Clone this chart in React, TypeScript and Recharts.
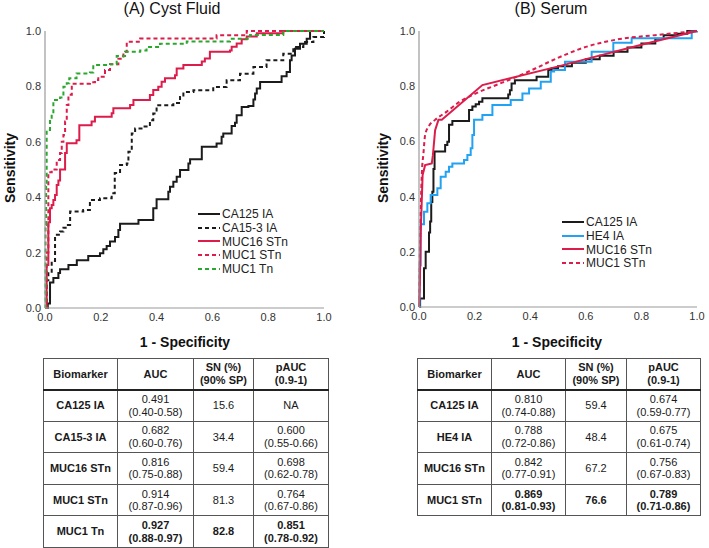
import React from "react";
import { LineChart, Line, XAxis, YAxis, Legend } from "recharts";

const FONT = '"Liberation Sans", Arial, sans-serif';
const ticks = [0, 0.2, 0.4, 0.6, 0.8, 1];

// (A) Cyst fluid: points are the top of each rise of the ROC staircase
const cystCa125Fpr = [0, 0.01, 0.018, 0.03, 0.048, 0.054, 0.084, 0.114, 0.155, 0.197, 0.209, 0.221, 0.233, 0.251, 0.263, 0.269, 0.335, 0.388, 0.4, 0.442, 0.448, 0.46, 0.472, 0.484, 0.514, 0.52, 0.562, 0.615, 0.633, 0.639, 0.669, 0.681, 0.687, 0.705, 0.729, 0.747, 0.753, 0.759, 0.771, 0.848, 0.866, 0.878, 0.884, 0.896, 0.914, 0.938, 0.95, 1];
const cystCa125Tpr = [0, 0.016, 0.092, 0.108, 0.126, 0.14, 0.155, 0.172, 0.188, 0.198, 0.212, 0.224, 0.24, 0.256, 0.282, 0.304, 0.318, 0.36, 0.393, 0.42, 0.438, 0.456, 0.474, 0.498, 0.522, 0.537, 0.582, 0.594, 0.618, 0.63, 0.657, 0.669, 0.696, 0.726, 0.729, 0.753, 0.774, 0.792, 0.816, 0.837, 0.852, 0.894, 0.912, 0.936, 0.954, 0.972, 1, 1];

const cystCa153Fpr = [0, 0.006, 0.012, 0.024, 0.036, 0.054, 0.066, 0.078, 0.09, 0.137, 0.161, 0.197, 0.239, 0.25, 0.269, 0.293, 0.299, 0.311, 0.323, 0.352, 0.376, 0.388, 0.4, 0.46, 0.484, 0.496, 0.532, 0.603, 0.651, 0.699, 0.747, 0.794, 0.854, 0.89, 0.926, 0.962, 1];
const cystCa153Tpr = [0, 0.1, 0.131, 0.17, 0.264, 0.276, 0.29, 0.3, 0.348, 0.354, 0.39, 0.396, 0.414, 0.487, 0.516, 0.522, 0.564, 0.63, 0.648, 0.655, 0.678, 0.702, 0.732, 0.74, 0.762, 0.78, 0.786, 0.798, 0.822, 0.846, 0.87, 0.894, 0.918, 0.942, 0.96, 0.978, 1];

const cystMuc16Fpr = [0, 0.006, 0.012, 0.018, 0.024, 0.03, 0.036, 0.042, 0.048, 0.054, 0.072, 0.078, 0.113, 0.123, 0.167, 0.179, 0.239, 0.245, 0.305, 0.317, 0.376, 0.388, 0.406, 0.418, 0.43, 0.466, 0.472, 0.496, 0.562, 0.573, 0.591, 0.663, 0.669, 0.687, 0.705, 0.723, 0.759, 0.854, 1];
const cystMuc16Tpr = [0, 0.155, 0.31, 0.36, 0.372, 0.39, 0.408, 0.444, 0.46, 0.5, 0.56, 0.595, 0.606, 0.66, 0.673, 0.69, 0.703, 0.721, 0.733, 0.751, 0.769, 0.787, 0.799, 0.817, 0.829, 0.84, 0.865, 0.877, 0.89, 0.901, 0.925, 0.93, 0.943, 0.955, 0.97, 0.98, 0.992, 1, 1];

const cystMuc1StnFpr = [0, 0.006, 0.012, 0.024, 0.042, 0.054, 0.06, 0.066, 0.072, 0.078, 0.084, 0.096, 0.161, 0.179, 0.191, 0.215, 0.233, 0.263, 0.281, 0.293, 0.341, 0.615, 0.723, 1];
const cystMuc1StnTpr = [0, 0.2, 0.49, 0.5, 0.534, 0.56, 0.6, 0.625, 0.673, 0.733, 0.77, 0.81, 0.815, 0.823, 0.835, 0.859, 0.88, 0.9, 0.925, 0.961, 0.973, 0.985, 1, 1];

const cystMuc1TnFpr = [0, 0.002, 0.004, 0.006, 0.018, 0.024, 0.03, 0.054, 0.066, 0.078, 0.087, 0.113, 0.161, 0.173, 0.233, 0.257, 0.287, 0.341, 0.364, 0.412, 0.508, 0.663, 0.735, 0.854, 1];
const cystMuc1TnTpr = [0, 0.3, 0.44, 0.643, 0.679, 0.7, 0.751, 0.76, 0.799, 0.811, 0.829, 0.847, 0.85, 0.877, 0.88, 0.91, 0.925, 0.93, 0.942, 0.954, 0.962, 0.972, 0.986, 1, 1];

// (B) Serum
const serumCa125Fpr = [0, 0.004, 0.012, 0.018, 0.024, 0.036, 0.04, 0.044, 0.048, 0.052, 0.056, 0.09, 0.094, 0.102, 0.108, 0.12, 0.174, 0.18, 0.192, 0.204, 0.216, 0.228, 0.303, 0.321, 0.327, 0.333, 0.345, 0.417, 0.423, 0.447, 0.465, 0.477, 0.5, 0.55, 0.6, 0.65, 0.7, 0.75, 0.8, 0.85, 0.88, 0.93, 0.965, 1];
const serumCa125Tpr = [0, 0.031, 0.031, 0.14, 0.2, 0.27, 0.31, 0.38, 0.418, 0.5, 0.563, 0.563, 0.587, 0.599, 0.66, 0.674, 0.674, 0.714, 0.726, 0.735, 0.744, 0.756, 0.756, 0.77, 0.785, 0.81, 0.822, 0.822, 0.834, 0.834, 0.859, 0.865, 0.872, 0.885, 0.898, 0.91, 0.925, 0.94, 0.955, 0.972, 0.985, 0.99, 1, 1];

const serumHe4Fpr = [0, 0.002, 0.006, 0.018, 0.03, 0.042, 0.066, 0.078, 0.096, 0.108, 0.12, 0.162, 0.174, 0.186, 0.192, 0.198, 0.228, 0.264, 0.33, 0.372, 0.396, 0.438, 0.474, 0.486, 0.525, 0.621, 0.699, 0.765, 0.981, 1];
const serumHe4Tpr = [0, 0.15, 0.3, 0.345, 0.376, 0.406, 0.43, 0.472, 0.49, 0.508, 0.52, 0.533, 0.551, 0.575, 0.623, 0.678, 0.696, 0.732, 0.75, 0.774, 0.792, 0.816, 0.853, 0.859, 0.889, 0.925, 0.957, 0.974, 0.998, 1];

const serumMuc16Fpr = [0, 0.003, 0.006, 0.013, 0.022, 0.046, 0.05, 0.058, 0.07, 0.082, 0.228, 0.498, 0.6, 0.8, 1];
const serumMuc16Tpr = [0, 0.086, 0.267, 0.478, 0.514, 0.52, 0.55, 0.641, 0.678, 0.678, 0.804, 0.871, 0.898, 0.95, 1];

const serumMuc1Fpr = [0, 0.004, 0.01, 0.016, 0.022, 0.034, 0.058, 0.1, 0.147, 0.207, 0.267, 0.342, 0.42, 0.498, 0.609, 0.729, 0.849, 1];
const serumMuc1Tpr = [0, 0.25, 0.478, 0.557, 0.623, 0.653, 0.678, 0.708, 0.744, 0.775, 0.8, 0.83, 0.865, 0.902, 0.945, 0.972, 0.985, 1];

// tables
const cystMarkers = ["CA125 IA", "CA15-3 IA", "MUC16 STn", "MUC1 STn", "MUC1 Tn"];
const cystAuc = ["0.491", "0.682", "0.816", "0.914", "0.927"];
const cystAucCi = ["(0.40-0.58)", "(0.60-0.76)", "(0.75-0.88)", "(0.87-0.96)", "(0.88-0.97)"];
const cystSn = ["15.6", "34.4", "59.4", "81.3", "82.8"];
const cystPauc = ["NA", "0.600", "0.698", "0.764", "0.851"];
const cystPaucCi = ["", "(0.55-0.66)", "(0.62-0.78)", "(0.67-0.86)", "(0.78-0.92)"];

const serumMarkers = ["CA125 IA", "HE4 IA", "MUC16 STn", "MUC1 STn"];
const serumAuc = ["0.810", "0.788", "0.842", "0.869"];
const serumAucCi = ["(0.74-0.88)", "(0.72-0.86)", "(0.77-0.91)", "(0.81-0.93)"];
const serumSn = ["59.4", "48.4", "67.2", "76.6"];
const serumPauc = ["0.674", "0.675", "0.756", "0.789"];
const serumPaucCi = ["(0.59-0.77)", "(0.61-0.74)", "(0.67-0.83)", "(0.71-0.86)"];

const BLACK = "#1b1b1b";
const RED = "#dc1c4a";
const GREEN = "#2aa82e";
const BLUE = "#22a2f2";

interface Series {
  name: string;
  fpr: number[];
  tpr: number[];
  color: string;
  dashed: boolean;
  curve: "stepAfter" | "linear" | "monotone";
}

const toPoints = (fpr: number[], tpr: number[]) => fpr.map((x, i) => ({ x, y: tpr[i] }));

const cystSeries: Series[] = [
  { name: "CA125 IA", fpr: cystCa125Fpr, tpr: cystCa125Tpr, color: BLACK, dashed: false, curve: "stepAfter" },
  { name: "CA15-3 IA", fpr: cystCa153Fpr, tpr: cystCa153Tpr, color: BLACK, dashed: true, curve: "stepAfter" },
  { name: "MUC16 STn", fpr: cystMuc16Fpr, tpr: cystMuc16Tpr, color: RED, dashed: false, curve: "stepAfter" },
  { name: "MUC1 STn", fpr: cystMuc1StnFpr, tpr: cystMuc1StnTpr, color: RED, dashed: true, curve: "stepAfter" },
  { name: "MUC1 Tn", fpr: cystMuc1TnFpr, tpr: cystMuc1TnTpr, color: GREEN, dashed: true, curve: "stepAfter" },
];

const serumSeries: Series[] = [
  { name: "CA125 IA", fpr: serumCa125Fpr, tpr: serumCa125Tpr, color: BLACK, dashed: false, curve: "stepAfter" },
  { name: "HE4 IA", fpr: serumHe4Fpr, tpr: serumHe4Tpr, color: BLUE, dashed: false, curve: "stepAfter" },
  { name: "MUC16 STn", fpr: serumMuc16Fpr, tpr: serumMuc16Tpr, color: RED, dashed: false, curve: "linear" },
  { name: "MUC1 STn", fpr: serumMuc1Fpr, tpr: serumMuc1Tpr, color: RED, dashed: true, curve: "monotone" },
];

function LegendBox({ series }: { series: Series[] }) {
  return (
    <div style={{ fontFamily: FONT, fontSize: 12, color: "#222" }}>
      {series.map((s) => (
        <div key={s.name} style={{ display: "flex", alignItems: "center", height: 13.8 }}>
          <svg width={22} height={10} style={{ marginRight: 2 }}>
            <line x1={0} y1={5} x2={22} y2={5} stroke={s.color} strokeWidth={2} strokeDasharray={s.dashed ? "4 3" : undefined} />
          </svg>
          <span>{s.name}</span>
        </div>
      ))}
    </div>
  );
}

function RocChart({ series, width, height, right, legendLeft, legendTop }: {
  series: Series[]; width: number; height: number; right: number; legendLeft: number; legendTop: number;
}) {
  const tickStyle = { fill: "#333", fontSize: 11, fontFamily: FONT };
  return (
    <LineChart width={width} height={height} margin={{ top: 31, right, bottom: 0, left: 0 }}>
      <XAxis type="number" dataKey="x" domain={[0, 1]} ticks={ticks} tickFormatter={(v) => Number(v).toFixed(1)}
        tick={tickStyle} tickLine={false} tickSize={0} tickMargin={5} height={22} stroke="#9a9a9a" strokeWidth={1.2} />
      <YAxis type="number" dataKey="y" domain={[0, 1]} ticks={ticks} tickFormatter={(v) => Number(v).toFixed(1)}
        tick={tickStyle} tickLine={false} tickSize={0} tickMargin={4} width={45} stroke="#9a9a9a" strokeWidth={1.2} />
      {series.map((s) => (
        <Line key={s.name} data={toPoints(s.fpr, s.tpr)} dataKey="y" name={s.name} type={s.curve}
          stroke={s.color} strokeWidth={2} strokeDasharray={s.dashed ? "4 3" : undefined}
          dot={false} activeDot={false} isAnimationActive={false} />
      ))}
      <Legend layout="horizontal" verticalAlign="middle" align="center"
        content={() => <LegendBox series={series} />}
        wrapperStyle={{ position: "absolute", left: legendLeft, top: legendTop, width: 120, height: 70 }} />
    </LineChart>
  );
}

function StatsTable({ markers, auc, aucCi, sn, pauc, paucCi, boldRow, cols, left }: {
  markers: string[]; auc: string[]; aucCi: string[]; sn: string[]; pauc: string[]; paucCi: string[];
  boldRow: number; cols: number[]; left: number;
}) {
  const border = "1px solid #555";
  const cell = (extra: React.CSSProperties = {}): React.CSSProperties => ({
    border, padding: 0, textAlign: "center", verticalAlign: "middle", lineHeight: "12.5px", ...extra,
  });
  return (
    <table style={{
      position: "absolute", left, top: 358, borderCollapse: "collapse", tableLayout: "fixed",
      width: cols.reduce((a, b) => a + b, 0), fontFamily: FONT, fontSize: 11, color: "#1a1a1a",
    }}>
      <colgroup>
        {cols.map((w, i) => <col key={i} style={{ width: w }} />)}
      </colgroup>
      <thead>
        <tr style={{ height: 31 }}>
          <th style={cell({ borderBottom: "2.5px solid #222" })}>Biomarker</th>
          <th style={cell({ borderBottom: "2.5px solid #222" })}>AUC</th>
          <th style={cell({ borderBottom: "2.5px solid #222" })}>SN (%)<br />(90% SP)</th>
          <th style={cell({ borderBottom: "2.5px solid #222" })}>pAUC<br />(0.9-1)</th>
        </tr>
      </thead>
      <tbody>
        {markers.map((m, i) => {
          const fw = i === boldRow ? 700 : 400;
          return (
            <tr key={m} style={{ height: 31.6 }}>
              <td style={cell({ fontWeight: 700 })}>{m}</td>
              <td style={cell({ fontWeight: fw })}>{auc[i]}<br />{aucCi[i]}</td>
              <td style={cell({ fontWeight: fw })}>{sn[i]}</td>
              <td style={cell({ fontWeight: fw })}>{pauc[i]}{paucCi[i] ? <><br />{paucCi[i]}</> : null}</td>
            </tr>
          );
        })}
      </tbody>
    </table>
  );
}

const abs = (left: number, top: number, extra: React.CSSProperties = {}): React.CSSProperties => ({
  position: "absolute", left, top, fontFamily: FONT, color: "#111", whiteSpace: "nowrap", ...extra,
});

export default function App() {
  return (
    <div style={{ position: "absolute", left: 0, top: 0, width: 709, height: 548, background: "#fff", overflow: "hidden" }}>
      <div style={abs(172, 1, { fontSize: 16, lineHeight: "16px", transform: "translateX(-50%)" })}>(A) Cyst Fluid</div>
      <div style={abs(551, 1, { fontSize: 16, lineHeight: "16px", transform: "translateX(-50%)" })}>(B) Serum</div>

      <div style={{ position: "absolute", left: 0, top: 0 }}>
        <RocChart series={cystSeries} width={340} height={330} right={16} legendLeft={198} legendTop={207} />
      </div>
      <div style={{ position: "absolute", left: 374, top: 0 }}>
        <RocChart series={serumSeries} width={335} height={329} right={12} legendLeft={188} legendTop={215} />
      </div>

      <div style={abs(10, 168, { fontSize: 14, fontWeight: 700, transform: "translate(-50%, -50%) rotate(-90deg)" })}>Sensitivity</div>
      <div style={abs(383, 168, { fontSize: 14, fontWeight: 700, transform: "translate(-50%, -50%) rotate(-90deg)" })}>Sensitivity</div>

      <div style={abs(185, 342, { fontSize: 14, fontWeight: 700, transform: "translate(-50%, -50%)" })}>1 - Specificity</div>
      <div style={abs(557, 342, { fontSize: 14, fontWeight: 700, transform: "translate(-50%, -50%)" })}>1 - Specificity</div>

      <StatsTable markers={cystMarkers} auc={cystAuc} aucCi={cystAucCi} sn={cystSn} pauc={cystPauc} paucCi={cystPaucCi}
        boldRow={4} cols={[74, 76, 60, 75]} left={43} />
      <StatsTable markers={serumMarkers} auc={serumAuc} aucCi={serumAucCi} sn={serumSn} pauc={serumPauc} paucCi={serumPaucCi}
        boldRow={3} cols={[74, 74, 61, 74]} left={417} />
    </div>
  );
}
